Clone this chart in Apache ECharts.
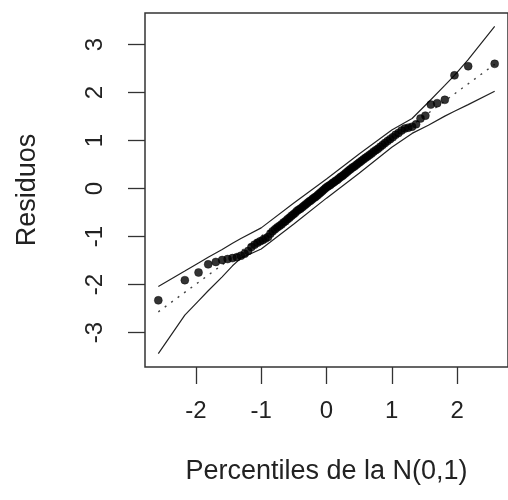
<!DOCTYPE html>
<html>
<head>
<meta charset="utf-8">
<script src="https://cdn.jsdelivr.net/npm/echarts@6/dist/echarts.min.js"></script>
<style>
html, body { margin: 0; padding: 0; background: #fff; }
#main { width: 508px; height: 500px; }
</style>
</head>
<body>
<div id="main"></div>
<script>
// percentiles teoricos N(0,1) de los 100 residuos
var qx = [-2.576, -2.170, -1.960, -1.812, -1.695, -1.598, -1.514, -1.440, -1.372, -1.311,
  -1.254, -1.200, -1.150, -1.103, -1.058, -1.015, -0.974, -0.935, -0.896, -0.860,
  -0.824, -0.789, -0.755, -0.722, -0.690, -0.659, -0.628, -0.598, -0.568, -0.539,
  -0.510, -0.482, -0.454, -0.426, -0.399, -0.372, -0.345, -0.319, -0.292, -0.266,
  -0.240, -0.215, -0.189, -0.164, -0.138, -0.113, -0.088, -0.063, -0.038, -0.013,
  0.013, 0.038, 0.063, 0.088, 0.113, 0.138, 0.164, 0.189, 0.215, 0.240,
  0.266, 0.292, 0.319, 0.345, 0.372, 0.399, 0.426, 0.454, 0.482, 0.510,
  0.539, 0.568, 0.598, 0.628, 0.659, 0.690, 0.722, 0.755, 0.789, 0.824,
  0.860, 0.896, 0.935, 0.974, 1.015, 1.058, 1.103, 1.150, 1.200, 1.254,
  1.311, 1.372, 1.440, 1.514, 1.598, 1.695, 1.812, 1.960, 2.170, 2.576]

// residuos ordenados
var residuos = [-2.33, -1.91, -1.75, -1.58, -1.53, -1.49, -1.47, -1.45, -1.43, -1.40,
  -1.36, -1.30, -1.22, -1.17, -1.13, -1.10, -1.07, -1.04, -1.01, -0.94,
  -0.89, -0.85, -0.81, -0.78, -0.75, -0.71, -0.68, -0.64, -0.61, -0.57,
  -0.54, -0.51, -0.47, -0.44, -0.42, -0.39, -0.36, -0.33, -0.30, -0.27,
  -0.25, -0.22, -0.19, -0.17, -0.14, -0.11, -0.08, -0.05, -0.02, 0.01,
  0.04, 0.06, 0.08, 0.11, 0.13, 0.16, 0.18, 0.21, 0.24, 0.26,
  0.29, 0.32, 0.35, 0.38, 0.41, 0.44, 0.46, 0.49, 0.52, 0.55,
  0.58, 0.61, 0.64, 0.67, 0.70, 0.73, 0.77, 0.80, 0.83, 0.87,
  0.91, 0.95, 0.99, 1.03, 1.07, 1.12, 1.16, 1.21, 1.25, 1.27,
  1.29, 1.34, 1.46, 1.52, 1.75, 1.78, 1.85, 2.36, 2.55, 2.60]

// bandas (envelope)
var envX = [-2.576, -2.170, -1.960, -1.812, -1.598, -1.440, -1.311, -1.000, -0.500, 0,
  0.500, 1.000, 1.311, 1.560, 1.812, 1.960, 2.170, 2.576]
var envUp = [-2.04, -1.72, -1.55, -1.43, -1.27, -1.14, -1.04, -0.82, -0.30, 0.20,
  0.72, 1.22, 1.46, 1.80, 2.15, 2.36, 2.69, 3.38]
var envLo = [-3.44, -2.64, -2.34, -2.13, -1.84, -1.61, -1.45, -1.26, -0.74, -0.20,
  0.32, 0.86, 1.15, 1.32, 1.51, 1.61, 1.75, 2.03]

// recta de referencia
var refX = [-2.576, 2.576]
var refY = [-2.57, 2.59]

var xTicks = [-2, -1, 0, 1, 2]
var yTicks = [-3, -2, -1, 0, 1, 2, 3]

function pares(xs, ys) {
    var out = []
    for (var i = 0; i < xs.length; i++) {
        out.push([xs[i], ys[i]])
    }
    return out
}

var fuente = "'Liberation Sans', Arial, sans-serif"
var myChart = echarts.init(document.getElementById('main'))

var option = {
    animation: false,
    backgroundColor: '#fff',
    grid: {
        show: true,
        left: 145,
        top: 13,
        width: 369,
        height: 354,
        borderColor: '#333',
        borderWidth: 1.5,
        backgroundColor: 'transparent'
    },
    xAxis: {
        type: 'value',
        min: -2.78,
        max: 2.78,
        name: 'Percentiles de la N(0,1)',
        nameLocation: 'middle',
        nameGap: 91,
        nameTextStyle: { fontFamily: fuente, fontSize: 27, color: '#222' },
        axisLine: { show: false, onZero: false },
        splitLine: { show: false },
        axisTick: { show: true, length: 17, customValues: xTicks, lineStyle: { color: '#333', width: 1.3 } },
        axisLabel: { customValues: xTicks, margin: 32, fontFamily: fuente, fontSize: 24, color: '#222' }
    },
    yAxis: {
        type: 'value',
        min: -3.72,
        max: 3.66,
        name: 'Residuos',
        nameLocation: 'middle',
        nameRotate: 90,
        nameGap: 104,
        nameTextStyle: { fontFamily: fuente, fontSize: 27, color: '#222' },
        axisLine: { show: false, onZero: false },
        splitLine: { show: false },
        axisTick: { show: true, length: 17, customValues: yTicks, lineStyle: { color: '#333', width: 1.3 } },
        axisLabel: { customValues: yTicks, rotate: 90, margin: 38, fontFamily: fuente, fontSize: 24, color: '#222' }
    },
    series: [
        {
            name: 'superior',
            type: 'line',
            data: pares(envX, envUp),
            showSymbol: false,
            lineStyle: { color: '#222', width: 1.2 },
            z: 2
        },
        {
            name: 'inferior',
            type: 'line',
            data: pares(envX, envLo),
            showSymbol: false,
            lineStyle: { color: '#222', width: 1.2 },
            z: 2
        },
        {
            name: 'referencia',
            type: 'line',
            data: pares(refX, refY),
            showSymbol: false,
            lineStyle: { color: '#444', width: 1.4, type: [2, 6] },
            z: 2
        },
        {
            name: 'residuos',
            type: 'scatter',
            data: pares(qx, residuos),
            symbolSize: 8,
            itemStyle: { color: '#000', borderColor: '#000', borderWidth: 0.5 },
            z: 3
        }
    ]
}

myChart.setOption(option)
</script>
</body>
</html>
